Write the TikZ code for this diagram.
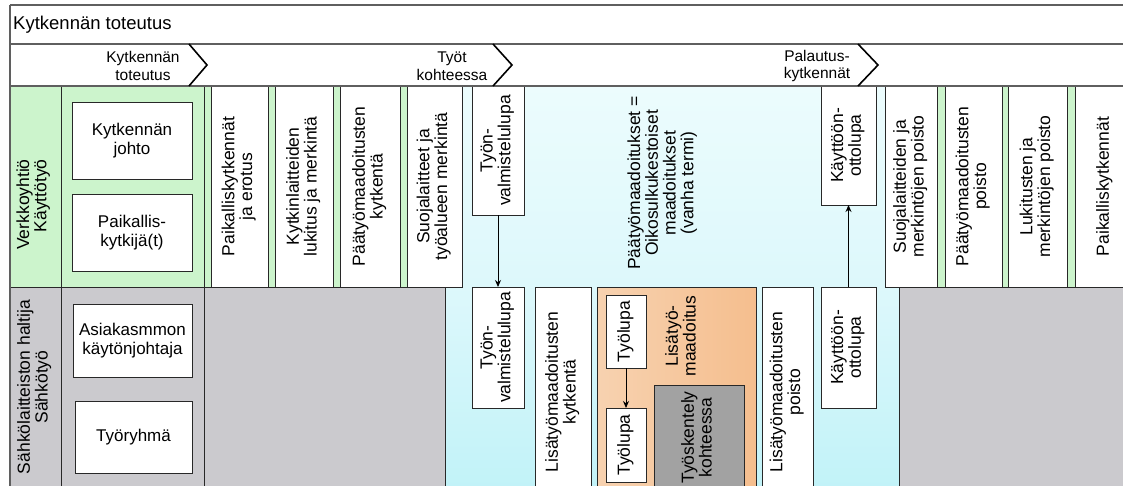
\documentclass[tikz,border=0pt]{standalone}
\usepackage{fontspec}
\setmainfont{Liberation Sans}
\usetikzlibrary{arrows.meta}
\definecolor{lanegreen}{RGB}{204,244,204}
\definecolor{lanegray}{RGB}{203,202,206}
\definecolor{cyanlight}{RGB}{236,252,253}
\definecolor{cyandark}{RGB}{192,242,248}
\definecolor{orl}{RGB}{247,210,176}
\definecolor{orm}{RGB}{252,233,215}
\definecolor{orr}{RGB}{245,190,142}
\definecolor{darkbox}{RGB}{162,162,162}
\definecolor{linecol}{RGB}{40,40,40}
\definecolor{framecol}{RGB}{95,95,95}
\newcommand{\vt}[2][c]{\rotatebox{90}{\begin{tabular}{@{}#1@{}}#2\end{tabular}}}
\begin{document}
\begin{tikzpicture}[x=1pt,y=-1pt,
  box/.style={draw=linecol, fill=white, line width=0.9pt, inner sep=0pt, outer sep=0pt,
    font=\fontsize{17.5}{17}\selectfont},
  hbox/.style={box, align=center, font=\fontsize{17}{19}\selectfont},
  plain/.style={inner sep=0pt, outer sep=0pt, font=\fontsize{17.5}{17}\selectfont},
  phase/.style={inner sep=0pt, align=center, font=\fontsize{15.5}{17.5}\selectfont},
  chev/.style={draw=black, line width=1.6pt, line join=miter},
  arr/.style={draw=black, line width=0.9pt, -{Stealth[length=7pt,width=6pt]}},
  frame/.style={draw=framecol, line width=1.5pt},
  sep/.style={draw=linecol, line width=0.9pt}]
\useasboundingbox (0,0) rectangle (1123,485);
% lanes
\fill[lanegreen] (10,86) rectangle (1130,287);
\fill[lanegray] (10,287) rectangle (1130,500);
\draw[sep] (10,287) -- (1130,287);
\draw[sep] (61,86) -- (61,500);
\draw[sep] (204,86) -- (204,500);
% cyan work area
\shade[top color=cyanlight, bottom color=cyandark, middle color=cyandark!55!white] (445,86) rectangle (899,500);
\draw[sep] (445,86) rectangle (899,500);
% lane labels
\node[plain] (l1) at (34,204.5) {\vt[r]{Verkkoyhtiö\\Käyttötyö}};
\node[plain] (l2) at (35,387) {\vt{Sähkölaitteiston haltija\\Sähkötyö}};
% role boxes
\node[hbox, minimum width=120pt, minimum height=77pt] (r1) at (132,140.5) {Kytkennän\\johto};
\node[hbox, minimum width=120pt, minimum height=77pt] (r2) at (132,232.5) {Paikallis-\\kytkijä(t)};
\node[hbox, minimum width=119pt, minimum height=73pt] (r3) at (132.5,340.5) {Asiakasmmon\\käytönjohtaja};
\node[hbox, minimum width=117pt, minimum height=72pt] (r4) at (133.5,437) {Työryhmä};
% lane 1 step boxes
\node[box, minimum width=57pt, minimum height=201pt] (s1) at (239.5,186.5) {\vt{Paikalliskytkennät\\ja erotus}};
\node[box, minimum width=58pt, minimum height=201pt] (s2) at (304,186.5) {\vt{Kytkinlaitteiden\\lukitus ja merkintä}};
\node[box, minimum width=60pt, minimum height=201pt] (s3) at (370,186.5) {\vt{Päätyömaadoitusten\\kytkentä}};
\node[box, minimum width=55pt, minimum height=201pt] (s4) at (434.5,186.5) {\vt{Suojalaitteet ja\\työalueen merkintä}};
\node[box, minimum width=52pt, minimum height=201pt] (s5) at (911,186.5) {\vt{Suojalaitteiden ja\\merkintöjen poisto}};
\node[box, minimum width=57pt, minimum height=201pt] (s6) at (973.5,186.5) {\vt{Päätyömaadoitusten\\poisto}};
\node[box, minimum width=59pt, minimum height=201pt] (s7) at (1037.5,186.5) {\vt{Lukitusten ja\\merkintöjen poisto}};
\node[box, minimum width=60pt, minimum height=201pt] (s8) at (1105,186.5) {\vt{Paikalliskytkennät}};
% permits
\node[box, minimum width=52pt, minimum height=129pt] (tv1) at (498,150.5) {\vt{Työn-\\valmistelulupa}};
\node[box, minimum width=52pt, minimum height=121pt] (tv2) at (498,347.5) {\vt{Työn-\\valmistelulupa}};
\node[box, minimum width=55pt, minimum height=119pt] (ko1) at (848.5,145.5) {\vt{Käyttöön-\\ottolupa}};
\node[box, minimum width=55pt, minimum height=121pt] (ko2) at (848.5,347.5) {\vt{Käyttöön-\\ottolupa}};
\node[plain] (pt) at (663,183) {\vt{Päätyömaadoitukset =\\Oikosulkukestoiset\\maadoitukset\\(vanha termi)}};
% lane 2 work steps
\node[box, minimum width=56pt, minimum height=210pt] (lk) at (563,392) {\vt{Lisätyömaadoitusten\\kytkentä}};
\node[box, minimum width=51pt, minimum height=210pt] (lp) at (787.5,392) {\vt{Lisätyömaadoitusten\\poisto}};
\shade[left color=orl, middle color=orm, right color=orr] (597,287) rectangle (756,497);
\node[draw=linecol, line width=0.9pt, inner sep=0pt, minimum width=159pt, minimum height=210pt] (or) at (676.5,392) {};
\node[plain] (lm) at (683,336) {\vt{Lisätyö-\\maadoitus}};
\node[box, minimum width=40pt, minimum height=73pt] (tl1) at (626,331.5) {\vt{Työlupa}};
\node[box, minimum width=40pt, minimum height=74pt] (tl2) at (626,445) {\vt{Työlupa}};
\node[box, fill=darkbox, minimum width=90pt, minimum height=105pt] (tk) at (699,437.5) {\vt{Työskentely\\kohteessa}};
% arrows
\draw[arr] (tv1.south) -- (tv2.north);
\draw[arr] (tl1.south) -- (tl2.north);
\draw[arr] (ko2.north) -- (ko1.south);
% header rows
\fill[white] (10,5) rectangle (1130,86);
\draw[frame] (10,5) -- (1130,5);
\draw[frame] (10,44) -- (1130,44);
\draw[frame] (10,86) -- (1130,86);
\draw[frame] (10,5) -- (10,500);
\node[anchor=west, inner sep=0pt, font=\fontsize{18.5}{20}\selectfont] (title) at (13,25) {Kytkennän toteutus};
% phase chevrons
\draw[chev] (189,44) -- (207,65) -- (189,86);
\draw[chev] (493,44) -- (512,65) -- (493,86);
\draw[chev] (858,44) -- (878,65) -- (858,86);
\node[phase] (p1) at (143,66) {Kytkennän\\toteutus};
\node[phase] (p2) at (452,66) {Työt\\kohteessa};
\node[phase] (p3) at (817,66) {Palautus-\\kytkennät};
\end{tikzpicture}
\end{document}
